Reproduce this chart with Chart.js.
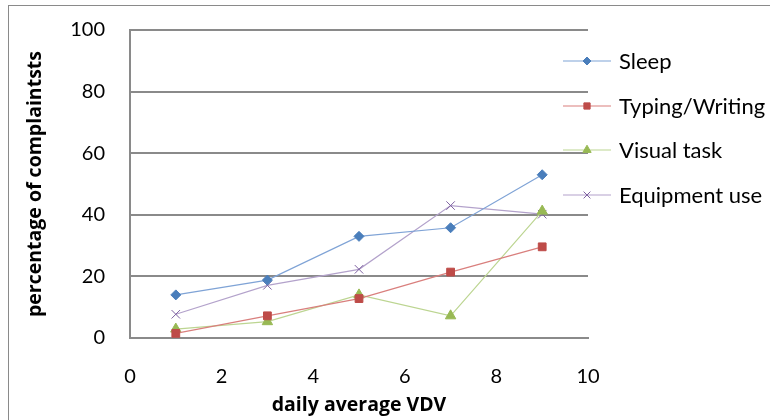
<!DOCTYPE html>
<html>
<head>
<meta charset="utf-8">
<script src="https://cdn.jsdelivr.net/npm/chart.js@4.4.1/dist/chart.umd.min.js"></script>
<style>
  html, body { margin: 0; padding: 0; background: #fff; }
  #wrap { width: 770px; height: 420px; position: relative; }
</style>
</head>
<body>
<div id="wrap"><canvas id="vdv_chart" width="770" height="420"></canvas></div>
<script>
// data
var vdv = [1, 3, 5, 7, 9];
var sleep = [14, 18.8, 33, 35.8, 53];
var typing = [1.5, 7.2, 12.8, 21.4, 29.6];
var visual = [2.9, 5.3, 14, 7.2, 41.2];
var equipment = [7.7, 17.1, 22.3, 43, 40.2];
var seriesNames = ["Sleep", "Typing/Writing", "Visual task", "Equipment use"];
var xTicks = [0, 2, 4, 6, 8, 10];
var yTicks = [0, 20, 40, 60, 80, 100];

var FONT = "Lato, 'Open Sans', sans-serif";
var TITLE_FONT = "'Open Sans', Lato, sans-serif";
var GRID = '#8a8a8a';

function pts(ys) {
    return vdv.map(function(x, i) { return { x: x, y: ys[i] }; });
}

var styles = [
    { line: '#7fa3d6', point: '#4a7ebb', shape: 'rectRot', r: 5 },
    { line: '#d97f7d', point: '#be4b48', shape: 'rect', r: 5.5 },
    { line: '#bcd591', point: '#98b954', shape: 'triangle', r: 6 },
    { line: '#b3a2cb', point: '#7d60a0', shape: 'crossRot', r: 6 }
];

var datasets = [sleep, typing, visual, equipment].map(function(ys, i) {
    var s = styles[i];
    return {
        label: seriesNames[i],
        data: pts(ys),
        borderColor: s.line,
        backgroundColor: s.point,
        pointBorderColor: s.point,
        pointBackgroundColor: s.point,
        pointStyle: s.shape,
        pointRadius: s.r,
        pointBorderWidth: 1,
        borderWidth: 1.2,
        tension: 0,
        fill: false
    };
});

// outer frame + legend drawn by hand, the way the spreadsheet does it
var frameAndLegend = {
    id: 'frameAndLegend',
    afterDraw: function(chart) {
        var ctx = chart.ctx;
        ctx.save();
        ctx.strokeStyle = GRID;
        ctx.lineWidth = 1;
        ctx.strokeRect(8.5, 5.5, 900, 600);

        var rows = [61, 106, 150, 195];
        ctx.font = "22px " + FONT;
        ctx.textBaseline = 'middle';
        chart.data.datasets.forEach(function(ds, i) {
            var y = rows[i];
            ctx.strokeStyle = ds.borderColor;
            ctx.lineWidth = 1.2;
            ctx.beginPath();
            ctx.moveTo(563, y);
            ctx.lineTo(611, y);
            ctx.stroke();
            ctx.fillStyle = ds.pointBackgroundColor;
            ctx.strokeStyle = ds.pointBorderColor;
            ctx.lineWidth = 1;
            Chart.helpers.drawPoint(ctx, {
                pointStyle: ds.pointStyle,
                radius: ds.pointRadius * 0.8,
                rotation: 0,
                borderWidth: 1
            }, 587, y);
            ctx.fillStyle = '#000';
            ctx.textAlign = 'left';
            ctx.fillText(ds.label, 619, y + 1);
        });
        ctx.restore();
    }
};

var ctxEl = document.getElementById("vdv_chart");
var vdvChart = new Chart(ctxEl, {
    type: 'line',
    data: { datasets: datasets },
    plugins: [frameAndLegend],
    options: {
        responsive: false,
        animation: false,
        layout: { padding: { left: 8, top: 30, right: 182, bottom: 0 } },
        plugins: {
            legend: { display: false },
            tooltip: { enabled: false }
        },
        scales: {
            x: {
                type: 'linear',
                min: 0,
                max: 10,
                afterBuildTicks: function(scale) {
                    scale.ticks = xTicks.map(function(v) { return { value: v }; });
                },
                afterFit: function(scale) { scale.height = 82; },
                grid: { display: false, drawTicks: false },
                border: { display: true, color: GRID, width: 2 },
                ticks: {
                    color: '#000',
                    padding: 27,
                    maxRotation: 0,
                    font: { family: FONT, size: 20 }
                },
                title: {
                    display: true,
                    text: 'daily average VDV',
                    color: '#000',
                    padding: { top: 0, bottom: 3 },
                    font: { family: TITLE_FONT, size: 19.5, weight: 'bold' }
                }
            },
            y: {
                min: 0,
                max: 100,
                afterBuildTicks: function(scale) {
                    scale.ticks = yTicks.map(function(v) { return { value: v }; });
                },
                afterFit: function(scale) {
                    scale.width = 122;
                    // label padding would otherwise push the plot top down
                    scale.paddingTop = 0;
                    scale.paddingBottom = 0;
                },
                grid: { color: GRID, lineWidth: 2, drawTicks: false },
                border: { display: true, color: GRID, width: 2 },
                ticks: {
                    color: '#000',
                    padding: 25,
                    font: { family: FONT, size: 20 }
                },
                title: {
                    display: true,
                    text: 'percentage of complaintsts',
                    color: '#000',
                    padding: { top: 16, bottom: 0 },
                    font: { family: TITLE_FONT, size: 19.5, weight: 'bold' }
                }
            }
        }
    }
});
</script>
</body>
</html>
